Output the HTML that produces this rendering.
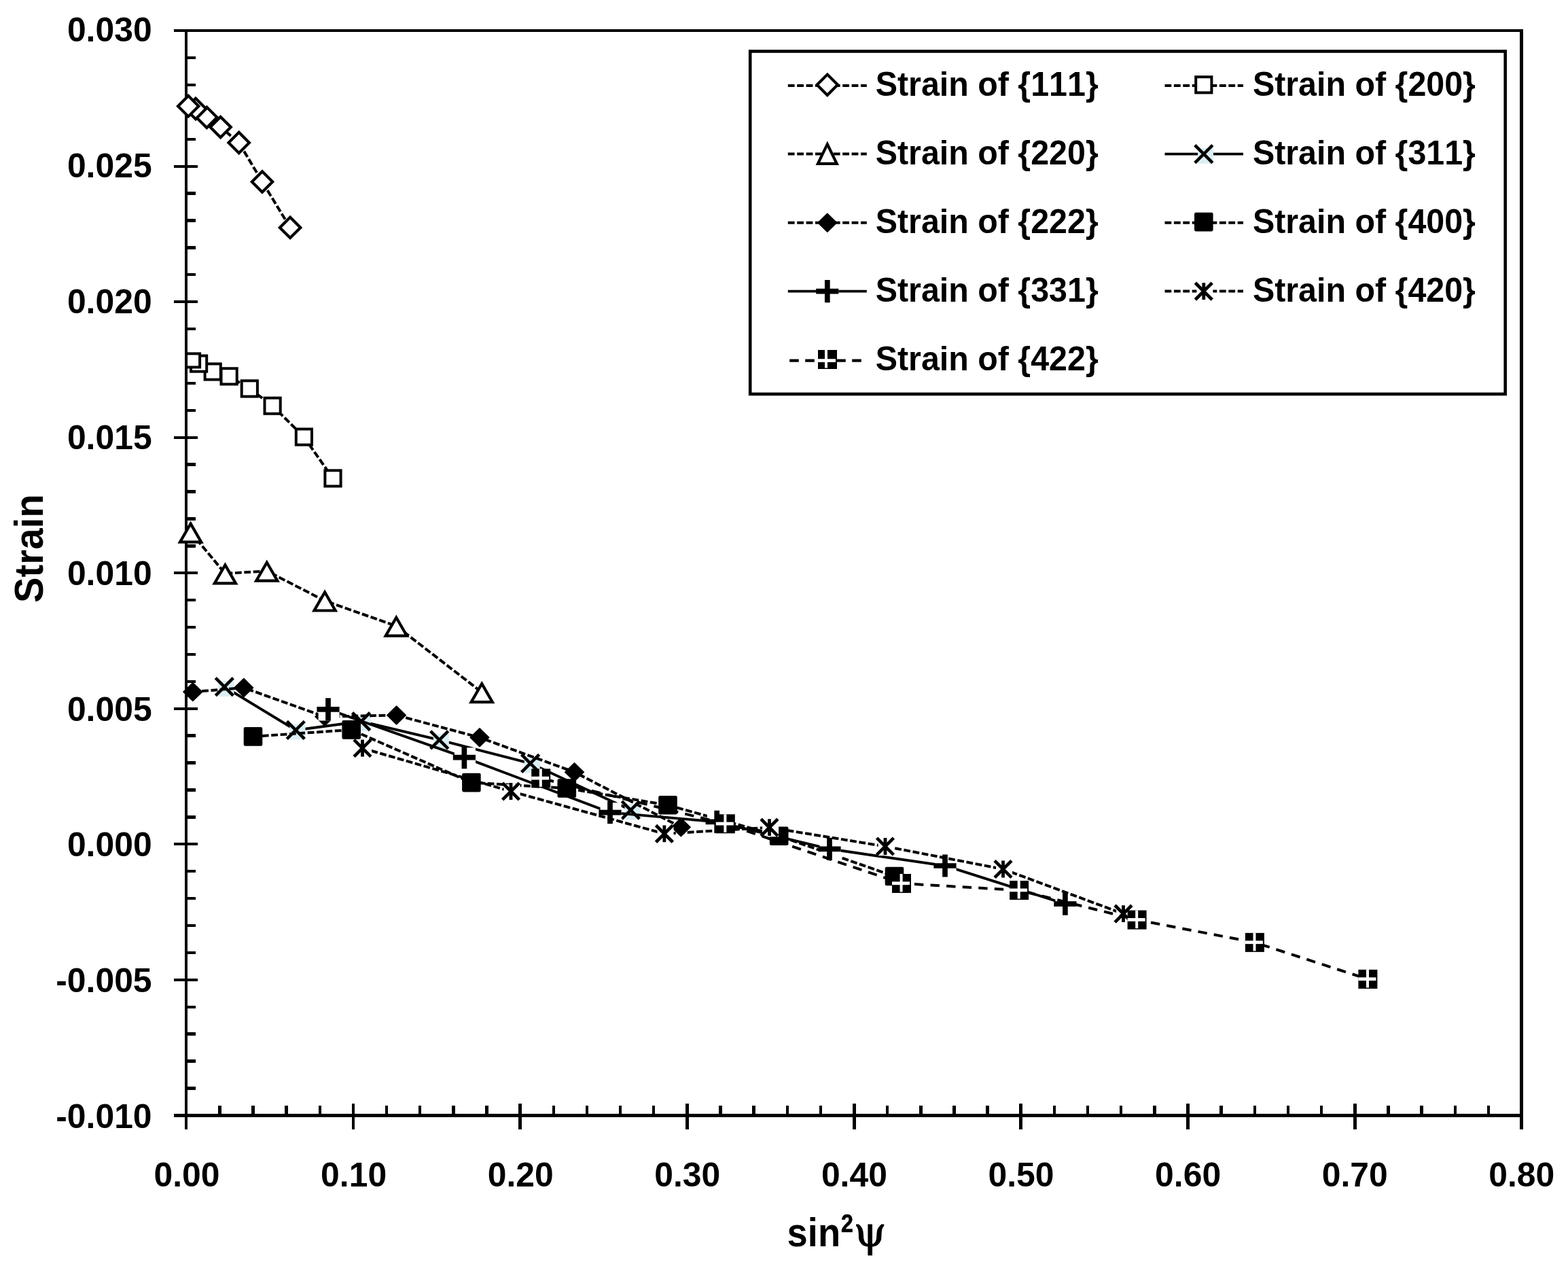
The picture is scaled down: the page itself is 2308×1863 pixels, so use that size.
<!DOCTYPE html>
<html lang="en">
<head>
<meta charset="utf-8">
<title>Strain vs sin²ψ</title>
<style>
html,body{margin:0;padding:0;background:#fff;}
body{width:2308px;height:1863px;overflow:hidden;}
svg{display:block;}
text{font-kerning:none;}
</style>
</head>
<body>
<svg width="2308" height="1863" viewBox="0 0 2308 1863">
<rect x="0" y="0" width="2308" height="1863" fill="#fff"/>
<g id="axes" shape-rendering="crispEdges">
<line x1="255.70" y1="45.10" x2="2242.00" y2="45.10" stroke="#000" stroke-width="4.0" />
<line x1="255.70" y1="1641.40" x2="2242.00" y2="1641.40" stroke="#000" stroke-width="4.6" />
<line x1="274.20" y1="43.10" x2="274.20" y2="1661.70" stroke="#000" stroke-width="4.0" />
<line x1="2239.70" y1="43.10" x2="2239.70" y2="1661.70" stroke="#000" stroke-width="4.5" />
<line x1="255.70" y1="244.64" x2="291.20" y2="244.64" stroke="#000" stroke-width="4.0" />
<line x1="255.70" y1="444.18" x2="291.20" y2="444.18" stroke="#000" stroke-width="4.0" />
<line x1="255.70" y1="643.71" x2="291.20" y2="643.71" stroke="#000" stroke-width="4.0" />
<line x1="255.70" y1="843.25" x2="291.20" y2="843.25" stroke="#000" stroke-width="4.0" />
<line x1="255.70" y1="1042.79" x2="291.20" y2="1042.79" stroke="#000" stroke-width="4.0" />
<line x1="255.70" y1="1242.33" x2="291.20" y2="1242.33" stroke="#000" stroke-width="4.0" />
<line x1="255.70" y1="1441.86" x2="291.20" y2="1441.86" stroke="#000" stroke-width="4.0" />
<line x1="274.20" y1="85.01" x2="288.00" y2="85.01" stroke="#000" stroke-width="4.4" />
<line x1="274.20" y1="124.92" x2="288.00" y2="124.92" stroke="#000" stroke-width="4.4" />
<line x1="274.20" y1="164.82" x2="288.00" y2="164.82" stroke="#000" stroke-width="4.4" />
<line x1="274.20" y1="204.73" x2="288.00" y2="204.73" stroke="#000" stroke-width="4.4" />
<line x1="274.20" y1="284.55" x2="288.00" y2="284.55" stroke="#000" stroke-width="4.4" />
<line x1="274.20" y1="324.45" x2="288.00" y2="324.45" stroke="#000" stroke-width="4.4" />
<line x1="274.20" y1="364.36" x2="288.00" y2="364.36" stroke="#000" stroke-width="4.4" />
<line x1="274.20" y1="404.27" x2="288.00" y2="404.27" stroke="#000" stroke-width="4.4" />
<line x1="274.20" y1="484.08" x2="288.00" y2="484.08" stroke="#000" stroke-width="4.4" />
<line x1="274.20" y1="523.99" x2="288.00" y2="523.99" stroke="#000" stroke-width="4.4" />
<line x1="274.20" y1="563.90" x2="288.00" y2="563.90" stroke="#000" stroke-width="4.4" />
<line x1="274.20" y1="603.81" x2="288.00" y2="603.81" stroke="#000" stroke-width="4.4" />
<line x1="274.20" y1="683.62" x2="288.00" y2="683.62" stroke="#000" stroke-width="4.4" />
<line x1="274.20" y1="723.53" x2="288.00" y2="723.53" stroke="#000" stroke-width="4.4" />
<line x1="274.20" y1="763.44" x2="288.00" y2="763.44" stroke="#000" stroke-width="4.4" />
<line x1="274.20" y1="803.34" x2="288.00" y2="803.34" stroke="#000" stroke-width="4.4" />
<line x1="274.20" y1="883.16" x2="288.00" y2="883.16" stroke="#000" stroke-width="4.4" />
<line x1="274.20" y1="923.07" x2="288.00" y2="923.07" stroke="#000" stroke-width="4.4" />
<line x1="274.20" y1="962.97" x2="288.00" y2="962.97" stroke="#000" stroke-width="4.4" />
<line x1="274.20" y1="1002.88" x2="288.00" y2="1002.88" stroke="#000" stroke-width="4.4" />
<line x1="274.20" y1="1082.69" x2="288.00" y2="1082.69" stroke="#000" stroke-width="4.4" />
<line x1="274.20" y1="1122.60" x2="288.00" y2="1122.60" stroke="#000" stroke-width="4.4" />
<line x1="274.20" y1="1162.51" x2="288.00" y2="1162.51" stroke="#000" stroke-width="4.4" />
<line x1="274.20" y1="1202.42" x2="288.00" y2="1202.42" stroke="#000" stroke-width="4.4" />
<line x1="274.20" y1="1282.23" x2="288.00" y2="1282.23" stroke="#000" stroke-width="4.4" />
<line x1="274.20" y1="1322.14" x2="288.00" y2="1322.14" stroke="#000" stroke-width="4.4" />
<line x1="274.20" y1="1362.05" x2="288.00" y2="1362.05" stroke="#000" stroke-width="4.4" />
<line x1="274.20" y1="1401.95" x2="288.00" y2="1401.95" stroke="#000" stroke-width="4.4" />
<line x1="274.20" y1="1481.77" x2="288.00" y2="1481.77" stroke="#000" stroke-width="4.4" />
<line x1="274.20" y1="1521.68" x2="288.00" y2="1521.68" stroke="#000" stroke-width="4.4" />
<line x1="274.20" y1="1561.59" x2="288.00" y2="1561.59" stroke="#000" stroke-width="4.4" />
<line x1="274.20" y1="1601.49" x2="288.00" y2="1601.49" stroke="#000" stroke-width="4.4" />
<line x1="519.92" y1="1624.20" x2="519.92" y2="1661.70" stroke="#000" stroke-width="4.8" />
<line x1="765.65" y1="1624.20" x2="765.65" y2="1661.70" stroke="#000" stroke-width="4.8" />
<line x1="1011.38" y1="1624.20" x2="1011.38" y2="1661.70" stroke="#000" stroke-width="4.8" />
<line x1="1257.10" y1="1624.20" x2="1257.10" y2="1661.70" stroke="#000" stroke-width="4.8" />
<line x1="1502.83" y1="1624.20" x2="1502.83" y2="1661.70" stroke="#000" stroke-width="4.8" />
<line x1="1748.55" y1="1624.20" x2="1748.55" y2="1661.70" stroke="#000" stroke-width="4.8" />
<line x1="1994.28" y1="1624.20" x2="1994.28" y2="1661.70" stroke="#000" stroke-width="4.8" />
<line x1="323.34" y1="1627.00" x2="323.34" y2="1641.40" stroke="#000" stroke-width="4.4" />
<line x1="372.49" y1="1627.00" x2="372.49" y2="1641.40" stroke="#000" stroke-width="4.4" />
<line x1="421.63" y1="1627.00" x2="421.63" y2="1641.40" stroke="#000" stroke-width="4.4" />
<line x1="470.78" y1="1627.00" x2="470.78" y2="1641.40" stroke="#000" stroke-width="4.4" />
<line x1="569.07" y1="1627.00" x2="569.07" y2="1641.40" stroke="#000" stroke-width="4.4" />
<line x1="618.21" y1="1627.00" x2="618.21" y2="1641.40" stroke="#000" stroke-width="4.4" />
<line x1="667.36" y1="1627.00" x2="667.36" y2="1641.40" stroke="#000" stroke-width="4.4" />
<line x1="716.50" y1="1627.00" x2="716.50" y2="1641.40" stroke="#000" stroke-width="4.4" />
<line x1="814.80" y1="1627.00" x2="814.80" y2="1641.40" stroke="#000" stroke-width="4.4" />
<line x1="863.94" y1="1627.00" x2="863.94" y2="1641.40" stroke="#000" stroke-width="4.4" />
<line x1="913.09" y1="1627.00" x2="913.09" y2="1641.40" stroke="#000" stroke-width="4.4" />
<line x1="962.23" y1="1627.00" x2="962.23" y2="1641.40" stroke="#000" stroke-width="4.4" />
<line x1="1060.52" y1="1627.00" x2="1060.52" y2="1641.40" stroke="#000" stroke-width="4.4" />
<line x1="1109.66" y1="1627.00" x2="1109.66" y2="1641.40" stroke="#000" stroke-width="4.4" />
<line x1="1158.81" y1="1627.00" x2="1158.81" y2="1641.40" stroke="#000" stroke-width="4.4" />
<line x1="1207.95" y1="1627.00" x2="1207.95" y2="1641.40" stroke="#000" stroke-width="4.4" />
<line x1="1306.24" y1="1627.00" x2="1306.24" y2="1641.40" stroke="#000" stroke-width="4.4" />
<line x1="1355.39" y1="1627.00" x2="1355.39" y2="1641.40" stroke="#000" stroke-width="4.4" />
<line x1="1404.54" y1="1627.00" x2="1404.54" y2="1641.40" stroke="#000" stroke-width="4.4" />
<line x1="1453.68" y1="1627.00" x2="1453.68" y2="1641.40" stroke="#000" stroke-width="4.4" />
<line x1="1551.97" y1="1627.00" x2="1551.97" y2="1641.40" stroke="#000" stroke-width="4.4" />
<line x1="1601.12" y1="1627.00" x2="1601.12" y2="1641.40" stroke="#000" stroke-width="4.4" />
<line x1="1650.26" y1="1627.00" x2="1650.26" y2="1641.40" stroke="#000" stroke-width="4.4" />
<line x1="1699.40" y1="1627.00" x2="1699.40" y2="1641.40" stroke="#000" stroke-width="4.4" />
<line x1="1797.69" y1="1627.00" x2="1797.69" y2="1641.40" stroke="#000" stroke-width="4.4" />
<line x1="1846.84" y1="1627.00" x2="1846.84" y2="1641.40" stroke="#000" stroke-width="4.4" />
<line x1="1895.99" y1="1627.00" x2="1895.99" y2="1641.40" stroke="#000" stroke-width="4.4" />
<line x1="1945.13" y1="1627.00" x2="1945.13" y2="1641.40" stroke="#000" stroke-width="4.4" />
<line x1="2043.42" y1="1627.00" x2="2043.42" y2="1641.40" stroke="#000" stroke-width="4.4" />
<line x1="2092.56" y1="1627.00" x2="2092.56" y2="1641.40" stroke="#000" stroke-width="4.4" />
<line x1="2141.71" y1="1627.00" x2="2141.71" y2="1641.40" stroke="#000" stroke-width="4.4" />
<line x1="2190.86" y1="1627.00" x2="2190.86" y2="1641.40" stroke="#000" stroke-width="4.4" />
</g>
<g id="labels" font-family='"Liberation Sans", "DejaVu Sans", sans-serif' fill="#000">
<text transform="translate(223.60,61.00) scale(0.985,1)" font-size="50.6" font-weight="bold" text-anchor="end" >0.030</text>
<text transform="translate(223.60,260.90) scale(0.985,1)" font-size="50.6" font-weight="bold" text-anchor="end" >0.025</text>
<text transform="translate(223.60,460.80) scale(0.985,1)" font-size="50.6" font-weight="bold" text-anchor="end" >0.020</text>
<text transform="translate(223.60,660.70) scale(0.985,1)" font-size="50.6" font-weight="bold" text-anchor="end" >0.015</text>
<text transform="translate(223.60,860.60) scale(0.985,1)" font-size="50.6" font-weight="bold" text-anchor="end" >0.010</text>
<text transform="translate(223.60,1060.50) scale(0.985,1)" font-size="50.6" font-weight="bold" text-anchor="end" >0.005</text>
<text transform="translate(223.60,1260.40) scale(0.985,1)" font-size="50.6" font-weight="bold" text-anchor="end" >0.000</text>
<text transform="translate(223.60,1460.30) scale(0.985,1)" font-size="50.6" font-weight="bold" text-anchor="end" >-0.005</text>
<text transform="translate(223.60,1660.20) scale(0.985,1)" font-size="50.6" font-weight="bold" text-anchor="end" >-0.010</text>
<text transform="translate(275.00,1745.70) scale(0.985,1)" font-size="50.6" font-weight="bold" text-anchor="middle" >0.00</text>
<text transform="translate(520.60,1745.70) scale(0.985,1)" font-size="50.6" font-weight="bold" text-anchor="middle" >0.10</text>
<text transform="translate(766.20,1745.70) scale(0.985,1)" font-size="50.6" font-weight="bold" text-anchor="middle" >0.20</text>
<text transform="translate(1011.80,1745.70) scale(0.985,1)" font-size="50.6" font-weight="bold" text-anchor="middle" >0.30</text>
<text transform="translate(1257.40,1745.70) scale(0.985,1)" font-size="50.6" font-weight="bold" text-anchor="middle" >0.40</text>
<text transform="translate(1503.00,1745.70) scale(0.985,1)" font-size="50.6" font-weight="bold" text-anchor="middle" >0.50</text>
<text transform="translate(1748.60,1745.70) scale(0.985,1)" font-size="50.6" font-weight="bold" text-anchor="middle" >0.60</text>
<text transform="translate(1994.20,1745.70) scale(0.985,1)" font-size="50.6" font-weight="bold" text-anchor="middle" >0.70</text>
<text transform="translate(2239.80,1745.70) scale(0.985,1)" font-size="50.6" font-weight="bold" text-anchor="middle" >0.80</text>
<text transform="translate(63.20,887.00) rotate(-90) scale(0.955,1)" font-size="59" font-weight="bold" text-anchor="start" >Strain</text>
<g id="xtitle">
<text transform="translate(1158.60,1834.30) scale(0.913,1)" font-size="59.5" font-weight="bold" text-anchor="start" >sin</text>
<text transform="translate(1238.00,1813.00) scale(0.88,1)" font-size="36.5" font-weight="bold" text-anchor="start" stroke="#000" stroke-width="0.7">2</text>
<text transform="translate(1256.80,1834.30)" font-size="61.0" font-weight="normal" text-anchor="start" font-family='"DejaVu Serif", "Liberation Serif", serif' stroke="#000" stroke-width="1.1">ψ</text>
</g>
</g>
<g id="series">
<g>
<polyline points="277.2,156.2 288.0,160.0 304.3,172.8 324.6,187.1 351.7,210.0 386.0,267.5 427.1,334.9" fill="none" stroke="#000" stroke-width="4.0" stroke-dasharray="9.8 3.6"/>
<path d="M411.9 334.9L427.1 319.7L442.3 334.9L427.1 350.1Z" fill="#fff" stroke="#000" stroke-width="4.2" stroke-linejoin="miter"/>
<path d="M370.8 267.5L386.0 252.3L401.2 267.5L386.0 282.7Z" fill="#fff" stroke="#000" stroke-width="4.2" stroke-linejoin="miter"/>
<path d="M336.5 210.0L351.7 194.8L366.9 210.0L351.7 225.2Z" fill="#fff" stroke="#000" stroke-width="4.2" stroke-linejoin="miter"/>
<path d="M309.4 187.1L324.6 171.9L339.8 187.1L324.6 202.3Z" fill="#fff" stroke="#000" stroke-width="4.2" stroke-linejoin="miter"/>
<path d="M289.1 172.8L304.3 157.6L319.5 172.8L304.3 188.0Z" fill="#fff" stroke="#000" stroke-width="4.2" stroke-linejoin="miter"/>
<path d="M272.8 160.0L288.0 144.8L303.2 160.0L288.0 175.2Z" fill="#fff" stroke="#000" stroke-width="4.2" stroke-linejoin="miter"/>
<path d="M262.0 156.2L277.2 141.0L292.4 156.2L277.2 171.4Z" fill="#fff" stroke="#000" stroke-width="4.2" stroke-linejoin="miter"/>
</g>
<g>
<polyline points="284.1,530.4 292.6,535.1 313.2,547.0 337.1,553.8 367.3,571.9 401.1,597.2 447.4,643.0 490.0,703.9" fill="none" stroke="#000" stroke-width="4.0" stroke-dasharray="9.8 3.6"/>
<rect x="478.4" y="692.3" width="23.2" height="23.2" fill="#fff" stroke="#000" stroke-width="4"/>
<rect x="435.8" y="631.4" width="23.2" height="23.2" fill="#fff" stroke="#000" stroke-width="4"/>
<rect x="389.5" y="585.6" width="23.2" height="23.2" fill="#fff" stroke="#000" stroke-width="4"/>
<rect x="355.7" y="560.3" width="23.2" height="23.2" fill="#fff" stroke="#000" stroke-width="4"/>
<rect x="325.5" y="542.2" width="23.2" height="23.2" fill="#fff" stroke="#000" stroke-width="4"/>
<rect x="301.6" y="535.4" width="23.2" height="23.2" fill="#fff" stroke="#000" stroke-width="4"/>
<rect x="281.0" y="523.5" width="23.2" height="23.2" fill="#fff" stroke="#000" stroke-width="4"/>
<rect x="274.1" y="520.4" width="20.0" height="20.0" fill="#fff" stroke="#000" stroke-width="4"/>
</g>
<g>
<polyline points="280.6,783.2 331.4,844.0 392.8,840.3 478.1,884.1 583.3,921.3 709.2,1018.7" fill="none" stroke="#000" stroke-width="4.0" stroke-dasharray="9.8 3.6"/>
<path d="M709.2 1006.1L724.8 1033.1L693.6 1033.1Z" fill="#fff" stroke="#000" stroke-width="4.2" stroke-linejoin="miter"/>
<path d="M583.3 908.7L598.9 935.7L567.7 935.7Z" fill="#fff" stroke="#000" stroke-width="4.2" stroke-linejoin="miter"/>
<path d="M478.1 871.5L493.7 898.5L462.5 898.5Z" fill="#fff" stroke="#000" stroke-width="4.2" stroke-linejoin="miter"/>
<path d="M392.8 827.7L408.4 854.7L377.2 854.7Z" fill="#fff" stroke="#000" stroke-width="4.2" stroke-linejoin="miter"/>
<path d="M331.4 831.4L347.0 858.4L315.8 858.4Z" fill="#fff" stroke="#000" stroke-width="4.2" stroke-linejoin="miter"/>
<path d="M280.6 770.6L296.2 797.6L265.0 797.6Z" fill="#fff" stroke="#000" stroke-width="4.2" stroke-linejoin="miter"/>
</g>
<g>
<polyline points="330.3,1010.7 435.3,1074.4 531.6,1061.6 646.7,1088.8 780.6,1123.3 928.3,1192.1" fill="none" stroke="#000" stroke-width="3.9" />
<rect x="919.5" y="1183.3" width="23.0" height="23.0" fill="#dbeef4"/>
<path d="M915.3 1179.1L941.3 1205.1M915.3 1205.1L941.3 1179.1" stroke="#000" stroke-width="4.6" fill="none" stroke-linecap="butt"/>
<rect x="771.8" y="1114.5" width="23.0" height="23.0" fill="#dbeef4"/>
<path d="M767.6 1110.3L793.6 1136.3M767.6 1136.3L793.6 1110.3" stroke="#000" stroke-width="4.6" fill="none" stroke-linecap="butt"/>
<rect x="637.9" y="1080.0" width="23.0" height="23.0" fill="#dbeef4"/>
<path d="M633.7 1075.8L659.7 1101.8M633.7 1101.8L659.7 1075.8" stroke="#000" stroke-width="4.6" fill="none" stroke-linecap="butt"/>
<rect x="522.8" y="1052.8" width="23.0" height="23.0" fill="#dbeef4"/>
<path d="M518.6 1048.6L544.6 1074.6M518.6 1074.6L544.6 1048.6" stroke="#000" stroke-width="4.6" fill="none" stroke-linecap="butt"/>
<rect x="426.5" y="1065.6" width="23.0" height="23.0" fill="#dbeef4"/>
<path d="M422.3 1061.4L448.3 1087.4M422.3 1087.4L448.3 1061.4" stroke="#000" stroke-width="4.6" fill="none" stroke-linecap="butt"/>
<rect x="321.5" y="1001.9" width="23.0" height="23.0" fill="#dbeef4"/>
<path d="M317.3 997.7L343.3 1023.7M317.3 1023.7L343.3 997.7" stroke="#000" stroke-width="4.6" fill="none" stroke-linecap="butt"/>
</g>
<g>
<polyline points="283.8,1018.1 358.8,1012.0 477.9,1054.6 583.6,1052.5 706.0,1085.3 845.5,1136.2 1002.3,1217.2" fill="none" stroke="#000" stroke-width="4.0" stroke-dasharray="9.8 3.6"/>
<path d="M988.5 1217.2L1002.3 1203.8L1016.1 1217.2L1002.3 1230.6Z" fill="#000" stroke="#000" stroke-width="1.6" stroke-linejoin="round"/>
<path d="M831.7 1136.2L845.5 1122.8L859.3 1136.2L845.5 1149.6Z" fill="#000" stroke="#000" stroke-width="1.6" stroke-linejoin="round"/>
<path d="M692.2 1085.3L706.0 1071.9L719.8 1085.3L706.0 1098.7Z" fill="#000" stroke="#000" stroke-width="1.6" stroke-linejoin="round"/>
<path d="M569.8 1052.5L583.6 1039.1L597.4 1052.5L583.6 1065.9Z" fill="#000" stroke="#000" stroke-width="1.6" stroke-linejoin="round"/>
<path d="M464.1 1054.6L477.9 1041.2L491.7 1054.6L477.9 1068.0Z" fill="#000" stroke="#000" stroke-width="1.6" stroke-linejoin="round"/>
<path d="M345.0 1012.0L358.8 998.6L372.6 1012.0L358.8 1025.4Z" fill="#000" stroke="#000" stroke-width="1.6" stroke-linejoin="round"/>
<path d="M270.0 1018.1L283.8 1004.7L297.6 1018.1L283.8 1031.5Z" fill="#000" stroke="#000" stroke-width="1.6" stroke-linejoin="round"/>
</g>
<g>
<polyline points="372.5,1083.9 517.2,1073.9 693.9,1151.6 834.3,1160.0 983.0,1184.8 1146.7,1230.2 1316.5,1289.5" fill="none" stroke="#000" stroke-width="4.0" stroke-dasharray="9.8 3.6"/>
<rect x="1303.5" y="1276.5" width="26.0" height="26.0" rx="1.5" fill="#000" stroke="#000" stroke-width="1.6" stroke-linejoin="round"/>
<rect x="1133.7" y="1217.2" width="26.0" height="26.0" rx="1.5" fill="#000" stroke="#000" stroke-width="1.6" stroke-linejoin="round"/>
<rect x="970.0" y="1171.8" width="26.0" height="26.0" rx="1.5" fill="#000" stroke="#000" stroke-width="1.6" stroke-linejoin="round"/>
<rect x="821.3" y="1147.0" width="26.0" height="26.0" rx="1.5" fill="#000" stroke="#000" stroke-width="1.6" stroke-linejoin="round"/>
<rect x="680.9" y="1138.6" width="26.0" height="26.0" rx="1.5" fill="#000" stroke="#000" stroke-width="1.6" stroke-linejoin="round"/>
<rect x="504.2" y="1060.9" width="26.0" height="26.0" rx="1.5" fill="#000" stroke="#000" stroke-width="1.6" stroke-linejoin="round"/>
<rect x="359.5" y="1070.9" width="26.0" height="26.0" rx="1.5" fill="#000" stroke="#000" stroke-width="1.6" stroke-linejoin="round"/>
</g>
<g>
<polyline points="483.0,1043.9 683.4,1114.6 898.0,1195.6 1055.2,1209.4 1221.0,1249.3 1391.0,1274.0 1567.9,1330.2" fill="none" stroke="#000" stroke-width="3.9" />
<rect x="1553.5" y="1315.8" width="31.0" height="31.0" fill="#fff"/>
<path d="M1551.3 1330.2H1584.5M1567.9 1313.6V1346.8" stroke="#000" stroke-width="7.7" fill="none"/>
<rect x="1376.6" y="1259.6" width="31.0" height="31.0" fill="#fff"/>
<path d="M1374.4 1274.0H1407.6M1391.0 1257.4V1290.6" stroke="#000" stroke-width="7.7" fill="none"/>
<rect x="1206.6" y="1234.9" width="31.0" height="31.0" fill="#fff"/>
<path d="M1204.4 1249.3H1237.6M1221.0 1232.7V1265.9" stroke="#000" stroke-width="7.7" fill="none"/>
<rect x="1040.8" y="1195.0" width="31.0" height="31.0" fill="#fff"/>
<path d="M1038.6 1209.4H1071.8M1055.2 1192.8V1226.0" stroke="#000" stroke-width="7.7" fill="none"/>
<rect x="883.6" y="1181.2" width="31.0" height="31.0" fill="#fff"/>
<path d="M881.4 1195.6H914.6M898.0 1179.0V1212.2" stroke="#000" stroke-width="7.7" fill="none"/>
<rect x="669.0" y="1100.2" width="31.0" height="31.0" fill="#fff"/>
<path d="M666.8 1114.6H700.0M683.4 1098.0V1131.2" stroke="#000" stroke-width="7.7" fill="none"/>
<rect x="468.6" y="1029.5" width="31.0" height="31.0" fill="#fff"/>
<path d="M466.4 1043.9H499.6M483.0 1027.3V1060.5" stroke="#000" stroke-width="7.7" fill="none"/>
</g>
<g>
<polyline points="533.5,1101.0 752.0,1164.5 977.9,1226.9 1132.5,1217.7 1303.0,1245.5 1476.5,1279.0 1653.5,1344.7" fill="none" stroke="#000" stroke-width="4.0" stroke-dasharray="9.8 3.6"/>
<rect x="1643.1" y="1334.3" width="24.0" height="24.0" fill="#fff"/>
<path d="M1641.1 1332.3L1665.9 1357.1M1641.1 1357.1L1665.9 1332.3M1653.5 1332.3V1357.1" stroke="#000" stroke-width="4.8" fill="none"/>
<rect x="1466.1" y="1268.6" width="24.0" height="24.0" fill="#fff"/>
<path d="M1464.1 1266.6L1488.9 1291.4M1464.1 1291.4L1488.9 1266.6M1476.5 1266.6V1291.4" stroke="#000" stroke-width="4.8" fill="none"/>
<rect x="1292.6" y="1235.1" width="24.0" height="24.0" fill="#fff"/>
<path d="M1290.6 1233.1L1315.4 1257.9M1290.6 1257.9L1315.4 1233.1M1303.0 1233.1V1257.9" stroke="#000" stroke-width="4.8" fill="none"/>
<rect x="1122.1" y="1207.3" width="24.0" height="24.0" fill="#fff"/>
<path d="M1120.1 1205.3L1144.9 1230.1M1120.1 1230.1L1144.9 1205.3M1132.5 1205.3V1230.1" stroke="#000" stroke-width="4.8" fill="none"/>
<rect x="967.5" y="1216.5" width="24.0" height="24.0" fill="#fff"/>
<path d="M965.5 1214.5L990.3 1239.3M965.5 1239.3L990.3 1214.5M977.9 1214.5V1239.3" stroke="#000" stroke-width="4.8" fill="none"/>
<rect x="741.6" y="1154.1" width="24.0" height="24.0" fill="#fff"/>
<path d="M739.6 1152.1L764.4 1176.9M739.6 1176.9L764.4 1152.1M752.0 1152.1V1176.9" stroke="#000" stroke-width="4.8" fill="none"/>
<rect x="523.1" y="1090.6" width="24.0" height="24.0" fill="#fff"/>
<path d="M521.1 1088.6L545.9 1113.4M521.1 1113.4L545.9 1088.6M533.5 1088.6V1113.4" stroke="#000" stroke-width="4.8" fill="none"/>
</g>
<g>
<polyline points="796.2,1145.3 1067.8,1212.3 1327.0,1300.0 1500.1,1310.1 1673.6,1353.6 1846.9,1386.9 2013.4,1440.9" fill="none" stroke="#000" stroke-width="4.0" stroke-dashoffset="-6" stroke-dasharray="13.4 10.2"/>
<rect x="1999.4" y="1426.9" width="28.0" height="28.0" fill="#000"/>
<path d="M2013.0 1426.9V1453.4" stroke="#fff" stroke-width="4.0" fill="none"/>
<path d="M1999.4 1440.7H2025.4" stroke="#fff" stroke-width="4.8" fill="none"/>
<rect x="1832.9" y="1372.9" width="28.0" height="28.0" fill="#000"/>
<path d="M1846.5 1372.9V1399.4" stroke="#fff" stroke-width="4.0" fill="none"/>
<path d="M1832.9 1386.7H1858.9" stroke="#fff" stroke-width="4.8" fill="none"/>
<rect x="1659.6" y="1339.6" width="28.0" height="28.0" fill="#000"/>
<path d="M1673.2 1339.6V1366.1" stroke="#fff" stroke-width="4.0" fill="none"/>
<path d="M1659.6 1353.4H1685.6" stroke="#fff" stroke-width="4.8" fill="none"/>
<rect x="1486.1" y="1296.1" width="28.0" height="28.0" fill="#000"/>
<path d="M1499.7 1296.1V1322.6" stroke="#fff" stroke-width="4.0" fill="none"/>
<path d="M1486.1 1309.9H1512.1" stroke="#fff" stroke-width="4.8" fill="none"/>
<rect x="1313.0" y="1286.0" width="28.0" height="28.0" fill="#000"/>
<path d="M1326.6 1286.0V1312.5" stroke="#fff" stroke-width="4.0" fill="none"/>
<path d="M1313.0 1299.8H1339.0" stroke="#fff" stroke-width="4.8" fill="none"/>
<rect x="1053.8" y="1198.3" width="28.0" height="28.0" fill="#000"/>
<path d="M1067.4 1198.3V1224.8" stroke="#fff" stroke-width="4.0" fill="none"/>
<path d="M1053.8 1212.1H1079.8" stroke="#fff" stroke-width="4.8" fill="none"/>
<rect x="782.2" y="1131.3" width="28.0" height="28.0" fill="#000"/>
<path d="M795.8 1131.3V1157.8" stroke="#fff" stroke-width="4.0" fill="none"/>
<path d="M782.2 1145.1H808.2" stroke="#fff" stroke-width="4.8" fill="none"/>
</g>
</g>
<rect x="1104.2" y="75.5" width="1111.5" height="504.4" fill="#fff" stroke="#000" stroke-width="4.6"/>
<g id="legend" font-family='"Liberation Sans", "DejaVu Sans", sans-serif' fill="#000">
<line x1="1159.8" y1="126.0" x2="1275.8" y2="126.0" stroke="#000" stroke-width="4.0" stroke-dasharray="9.8 3.6"/>
<path d="M1202.6 124.8L1217.8 109.6L1233.0 124.8L1217.8 140.0Z" fill="#fff" stroke="#000" stroke-width="4.2" stroke-linejoin="miter"/>
<text transform="translate(1288.70,141.40) scale(0.968,1)" font-size="50.0" font-weight="bold" text-anchor="start" >Strain of {111}</text>
<line x1="1714.5" y1="126.0" x2="1830.0" y2="126.0" stroke="#000" stroke-width="4.0" stroke-dasharray="9.8 3.6"/>
<rect x="1760.2" y="113.2" width="23.2" height="23.2" fill="#fff" stroke="#000" stroke-width="4"/>
<text transform="translate(1843.90,141.40) scale(0.968,1)" font-size="50.0" font-weight="bold" text-anchor="start" >Strain of {200}</text>
<line x1="1159.8" y1="226.6" x2="1275.8" y2="226.6" stroke="#000" stroke-width="4.0" stroke-dasharray="9.8 3.6"/>
<path d="M1217.8 212.2L1231.7 240.9L1203.9 240.9Z" fill="#fff" stroke="#000" stroke-width="4.2" stroke-linejoin="miter"/>
<text transform="translate(1288.70,242.00) scale(0.968,1)" font-size="50.0" font-weight="bold" text-anchor="start" >Strain of {220}</text>
<line x1="1714.5" y1="226.6" x2="1830.0" y2="226.6" stroke="#000" stroke-width="3.9" />
<rect x="1763.0" y="217.8" width="23.0" height="23.0" fill="#dbeef4"/>
<path d="M1758.8 213.6L1784.8 239.6M1758.8 239.6L1784.8 213.6" stroke="#000" stroke-width="4.6" fill="none" stroke-linecap="butt"/>
<text transform="translate(1843.90,242.00) scale(0.968,1)" font-size="50.0" font-weight="bold" text-anchor="start" >Strain of {311}</text>
<line x1="1159.8" y1="327.8" x2="1275.8" y2="327.8" stroke="#000" stroke-width="4.0" stroke-dasharray="9.8 3.6"/>
<path d="M1204.0 327.8L1217.8 314.4L1231.6 327.8L1217.8 341.2Z" fill="#000" stroke="#000" stroke-width="1.6" stroke-linejoin="round"/>
<text transform="translate(1288.70,343.20) scale(0.968,1)" font-size="50.0" font-weight="bold" text-anchor="start" >Strain of {222}</text>
<line x1="1714.5" y1="327.8" x2="1830.0" y2="327.8" stroke="#000" stroke-width="4.0" stroke-dasharray="9.8 3.6"/>
<rect x="1758.8" y="313.6" width="26.0" height="26.0" rx="1.5" fill="#000" stroke="#000" stroke-width="1.6" stroke-linejoin="round"/>
<text transform="translate(1843.90,343.20) scale(0.968,1)" font-size="50.0" font-weight="bold" text-anchor="start" >Strain of {400}</text>
<line x1="1159.8" y1="428.6" x2="1275.8" y2="428.6" stroke="#000" stroke-width="3.9" />
<rect x="1203.4" y="414.2" width="31.0" height="31.0" fill="#fff"/>
<path d="M1201.2 428.6H1234.4M1217.8 412.0V445.2" stroke="#000" stroke-width="7.7" fill="none"/>
<text transform="translate(1288.70,444.00) scale(0.968,1)" font-size="50.0" font-weight="bold" text-anchor="start" >Strain of {331}</text>
<line x1="1714.5" y1="428.6" x2="1830.0" y2="428.6" stroke="#000" stroke-width="4.0" stroke-dasharray="9.8 3.6"/>
<rect x="1761.4" y="418.2" width="24.0" height="24.0" fill="#fff"/>
<path d="M1759.4 416.2L1784.2 441.0M1759.4 441.0L1784.2 416.2M1771.8 416.2V441.0" stroke="#000" stroke-width="4.8" fill="none"/>
<text transform="translate(1843.90,444.00) scale(0.968,1)" font-size="50.0" font-weight="bold" text-anchor="start" >Strain of {420}</text>
<line x1="1162.2" y1="530.6" x2="1269.8" y2="530.6" stroke="#000" stroke-width="4.4" stroke-dasharray="13.6 9.4"/>
<rect x="1204.0" y="515.0" width="28.0" height="28.0" fill="#000"/>
<path d="M1216.0 515.0V541.5" stroke="#fff" stroke-width="4.0" fill="none"/>
<path d="M1204.0 530.6H1230.0" stroke="#fff" stroke-width="4.8" fill="none"/>
<text transform="translate(1288.70,545.40) scale(0.968,1)" font-size="50.0" font-weight="bold" text-anchor="start" >Strain of {422}</text>
</g>
</svg>
</body>
</html>
